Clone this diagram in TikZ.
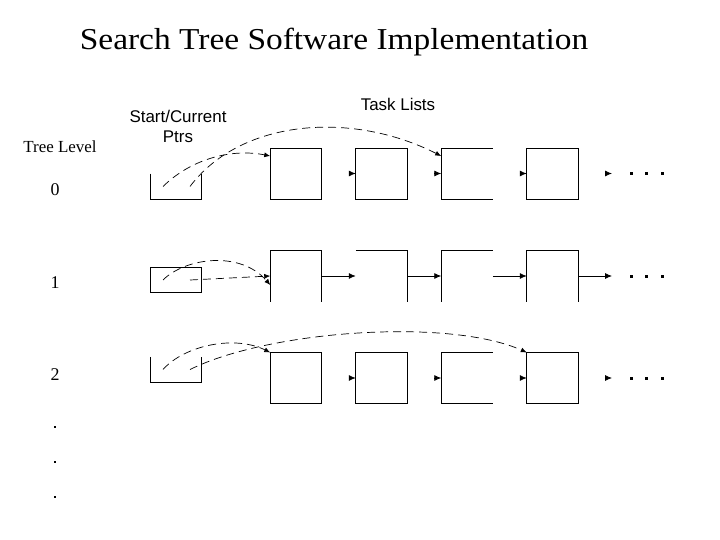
\documentclass[tikz,border=0pt]{standalone}
\usepackage{fontspec}
\setmainfont{Liberation Serif}
\setsansfont{Liberation Sans}
\newfontfamily\titlefont{Liberation Serif}[FakeStretch=1.1]
\usepackage{tikz}
\usetikzlibrary{arrows.meta}

\begin{document}
\begin{tikzpicture}[x=1bp,y=-1bp,
  task/.style={minimum width=51.5bp,minimum height=51bp,inner sep=0pt,outer sep=0pt},
  ptr/.style={minimum width=51bp,minimum height=25.5bp,inner sep=0pt,outer sep=0pt},
  link/.style={-{Latex[length=7bp,width=6bp]},line width=0.8bp},
  ptrlink/.style={-{Latex[length=6bp,width=5bp]},line width=0.7bp,dash pattern=on 8bp off 5bp},
  every path/.style={line width=0.8bp}]
  \useasboundingbox (0,0) rectangle (720,540);
  % titles
  \node[anchor=base] (title) at (334,50) {\titlefont\fontsize{30.5}{33}\selectfont Search Tree Software Implementation};
  \node[anchor=base,font=\fontsize{17}{20}\selectfont] (lvl) at (60,153) {Tree Level};
  \node[anchor=base,font=\sffamily\fontsize{17}{20}\selectfont] (ptrs) at (178,123) {Start/Current};
  \node[anchor=base,font=\sffamily\fontsize{17}{20}\selectfont] (ptrs2) at (178,143) {Ptrs};
  \node[anchor=base,font=\sffamily\fontsize{17}{20}\selectfont] (tasks) at (398,111) {Task Lists};
  % tree levels
  \node[font=\fontsize{18}{20}\selectfont] (l0) at (55,190) {0};
  \node[font=\fontsize{18}{20}\selectfont] (l1) at (55,283) {1};
  \node[font=\fontsize{18}{20}\selectfont] (l2) at (55,375) {2};
  \foreach \y in {427,462,497} \fill (55-1.2,\y-1.2) rectangle ++(2.4,2.4);

  % pointer boxes
  \node[ptr] (p0) at (175.5,186.5) {};
  \node[ptr,draw] (p1) at (175.5,280) {};
  \node[ptr] (p2) at (175.5,369.5) {};
  \draw (p0.north west) -- (p0.south west) -- (p0.south east) -- (p0.north east);
  \draw (p2.north west) -- (p2.south west) -- (p2.south east) -- (p2.north east);

  % level 0
  \node[task,draw] (t01) at (296,173.5) {};
  \node[task,draw] (t02) at (381.5,173.5) {};
  \node[task] (t03) at (467,173.5) {};
  \node[task,draw] (t04) at (552.5,173.5) {};
  \draw (t03.north east) -- (t03.north west) -- (t03.south west) -- (t03.south east);
  \coordinate (e0) at (612,173.5);

  % level 1
  \node[task] (t11) at (296,276) {};
  \node[task] (t12) at (381.5,276) {};
  \node[task] (t13) at (467,276) {};
  \node[task] (t14) at (552.5,276) {};
  \draw (t11.south west) -- (t11.north west) -- (t11.north east) -- (t11.south east);
  \draw (t12.north west) -- (t12.north east) -- (t12.south east);
  \draw (t13.north east) -- (t13.north west) -- (t13.south west);
  \draw (t14.south west) -- (t14.north west) -- (t14.north east) -- (t14.south east);
  \coordinate (e1) at (612,276);

  % level 2
  \node[task,draw] (t21) at (296,378) {};
  \node[task,draw] (t22) at (381.5,378) {};
  \node[task] (t23) at (467,378) {};
  \node[task,draw] (t24) at (552.5,378) {};
  \draw (t23.north east) -- (t23.north west) -- (t23.south west) -- (t23.south east);
  \coordinate (e2) at (612,378);

  % links between tasks
  \foreach \a in {t02,t03,t04,e0,t22,t23,t24,e2}
    \draw[link] ([xshift=-7bp]\a.west) -- (\a.west);
  \draw[link] (t11.east) -- (t12.west);
  \draw[link] (t12.east) -- (t13.west);
  \draw[link] (t13.east) -- (t14.west);
  \draw[link] (t14.east) -- (e1);
  \foreach \y in {173.5,276,378}
    \foreach \x in {631,646,662} \fill (\x-1.5,\y-1.5) rectangle ++(3,3);

  % start/current pointers
  \draw[ptrlink] ([xshift=-12.5bp]p0.center) .. controls (190,160) and (230,148) .. ([yshift=-8bp]t01.north west);
  \draw[ptrlink] ([xshift=14.5bp]p0.center) .. controls (240,120) and (350,110) .. ([yshift=-8bp]t03.north west);
  \draw[ptrlink] ([xshift=-12.5bp]p1.center) .. controls (185,258) and (240,250) .. ([yshift=-9bp]t11.west);
  \draw[ptrlink] ([xshift=14.5bp]p1.center) -- (t11.west);
  \draw[ptrlink] ([xshift=-12.5bp]p2.center) .. controls (185,345) and (235,335) .. (t21.north west);
  \draw[ptrlink] ([xshift=14.5bp]p2.center) .. controls (270,330) and (450,318) .. (t24.north west);
\end{tikzpicture}
\end{document}
